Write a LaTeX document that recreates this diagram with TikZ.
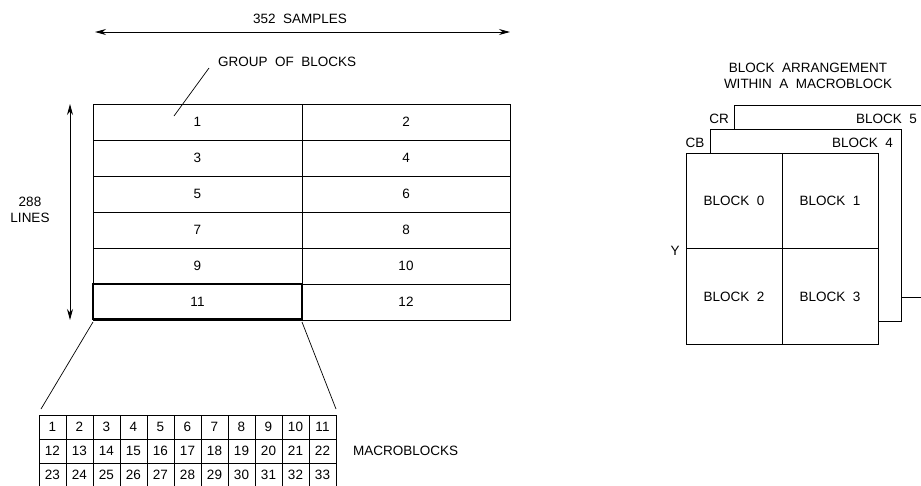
\documentclass[tikz,border=0pt]{standalone}
\usepackage{fontspec}
\setmainfont{Liberation Sans}
\usetikzlibrary{arrows.meta}
\begin{document}
\begin{tikzpicture}[x=1pt,y=-1pt,
  lbl/.style={font=\fontsize{13.5}{16.5}\selectfont, inner sep=0pt, align=center},
  gob/.style={draw, line width=0.7pt, minimum height=36pt, inner sep=0pt, font=\fontsize{13.5}{16}\selectfont},
  mb/.style={draw, line width=0.7pt, minimum width=27pt, minimum height=24pt, inner sep=0pt, font=\fontsize{13.5}{16}\selectfont},
  blk/.style={draw, fill=white, line width=0.7pt, minimum width=96pt, minimum height=95.5pt, inner sep=0pt, font=\fontsize{13.5}{16}\selectfont},
  plane/.style={draw, line width=0.7pt, fill=white},
  thin/.style={line width=0.7pt},
  dimarrow/.style={line width=0.9pt, {Stealth[length=11pt,width=6pt]}-{Stealth[length=11pt,width=6pt]}}]
\useasboundingbox (0,0) rectangle (921,485);

% ---- group of blocks grid ----
\foreach \r [count=\i from 0] in {1,3,5,7,9,11} {
  \pgfmathtruncatemacro{\rr}{\r+1}
  \node[gob, minimum width=209pt] (g\r) at (197.5,{122+36*\i}) {\r};
  \node[gob, minimum width=208pt] (g\rr) at (406,{122+36*\i}) {\rr};
}
\node[draw, line width=1.6pt, minimum width=209pt, minimum height=35pt, inner sep=0pt] (sel) at (197.5,301.5) {};

% dimension arrows
\coordinate (hl) at (95,32);
\coordinate (hr) at (510,32);
\draw[dimarrow] (hl) -- (hr);
\node[lbl] (samples) at (300,19) {352\ \ SAMPLES};
\coordinate (vt) at (70,104);
\coordinate (vb) at (70,320);
\draw[dimarrow] (vt) -- (vb);
\node[lbl] (lines) at (30,210) {288\\LINES};

% group of blocks leader
\node[lbl, anchor=west] (goblbl) at (218,62) {GROUP\ \ OF\ \ BLOCKS};
\coordinate (ldA) at (209,68);
\coordinate (ldB) at (174,116);
\draw[thin] (ldA) -- (ldB);

% ---- macroblocks ----
\foreach \j in {0,1,2} {
  \foreach \k in {1,...,11} {
    \pgfmathtruncatemacro{\n}{\j*11+\k}
    \node[mb] (m\n) at ({39+13.5+27*(\k-1)},{427+24*\j}) {\n};
  }
}
\coordinate (zl) at (41,409);
\coordinate (zr) at (336,409);
\coordinate (sl) at (93,322);
\coordinate (sr) at (302,322);
\draw[thin] (sl) -- (zl);
\draw[thin] (sr) -- (zr);
\node[lbl, anchor=west] (mblbl) at (353,451) {MACROBLOCKS};

% ---- block arrangement ----
\node[lbl] (title) at (808,76) {BLOCK\ \ ARRANGEMENT\\WITHIN\ \ A\ \ MACROBLOCK};
\draw[plane] (734,297) rectangle (930,105);
\draw[plane] (710,321) rectangle (901,129);
\node[blk] (b0) at (734,201) {BLOCK\ \ 0};
\node[blk] (b1) at (830,201) {BLOCK\ \ 1};
\node[blk] (b2) at (734,296.5) {BLOCK\ \ 2};
\node[blk] (b3) at (830,296.5) {BLOCK\ \ 3};
\node[lbl] (cr) at (719,119) {CR};
\node[lbl] (cb) at (695,143) {CB};
\node[lbl, anchor=east] (b5) at (917,119) {BLOCK\ \ 5};
\node[lbl, anchor=east] (b4) at (893,143) {BLOCK\ \ 4};
\node[lbl] (ylbl) at (675,251) {Y};
\end{tikzpicture}
\end{document}
